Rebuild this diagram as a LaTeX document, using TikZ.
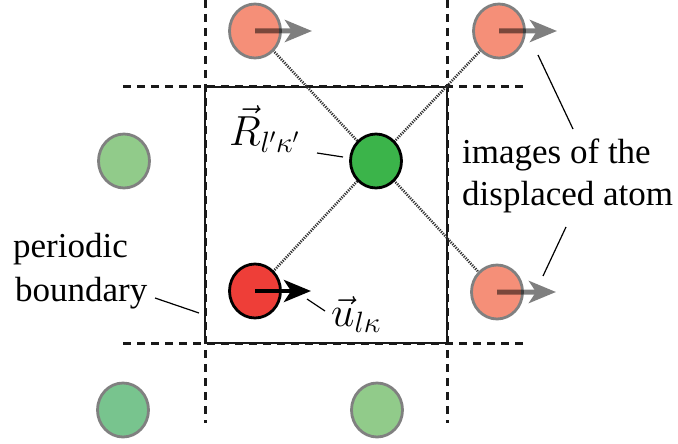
\RequirePackage{fix-cm}
\documentclass[tikz,border=0pt]{standalone}
\usepackage{fontspec}
\setmainfont{Liberation Serif}
\usetikzlibrary{shapes.geometric,arrows.meta,backgrounds}
\definecolor{salmon}{HTML}{F58F78}
\definecolor{lgreen}{HTML}{91CB8A}
\definecolor{mgreen}{HTML}{78C48E}
\definecolor{dgreen}{HTML}{3BB44A}
\definecolor{atomred}{HTML}{EE3E38}
\definecolor{ringgray}{HTML}{808080}
\tikzset{
  atom/.style={ellipse, minimum width=51pt, minimum height=54pt, inner sep=0pt, line width=2.8pt},
  image/.style={atom, draw=ringgray, fill=salmon},
  ghost/.style={atom, draw=ringgray, fill=#1},
  boundary/.style={line width=2.8pt, black!90},
  dashline/.style={line width=3pt, black!90, dash pattern=on 8pt off 6pt},
  dotline/.style={line width=2.6pt, black!80, dash pattern=on 1.2pt off 1.2pt},
  pointer/.style={line width=1.2pt, black},
  disp/.style={line width=5pt, -{Stealth[length=27pt,width=22pt,inset=7pt]}},
  lbl/.style={inner sep=0pt, font=\fontsize{35}{44}\selectfont},
  mlbl/.style={inner sep=0pt, font=\fontsize{42}{50}\selectfont},
}
\begin{document}
\begin{tikzpicture}[x=1pt,y=-1pt]
\useasboundingbox (0,0) rectangle (678,444);
% periodic boundary corners and line ends
\coordinate (c1) at (205,87);
\coordinate (c2) at (447,87);
\coordinate (c3) at (447,343);
\coordinate (c4) at (205,343);
\coordinate (vt1) at (205,0);
\coordinate (vb1) at (205,423);
\coordinate (vt2) at (447,0);
\coordinate (vb2) at (447,423);
\coordinate (hl1) at (123,87);
\coordinate (hr1) at (528,87);
\coordinate (hl2) at (123,343);
\coordinate (hr2) at (528,343);
% atoms
\node[image] (tl) at (255,31) {};
\node[image] (tr) at (499,31) {};
\node[image] (rb) at (497,292) {};
\node[ghost=lgreen] (lg) at (124,161) {};
\node[ghost=mgreen] (bl) at (123,410) {};
\node[ghost=lgreen] (bm) at (377,410) {};
\node[atom, draw=black, fill=dgreen] (cg) at (376,161) {};
\node[atom, draw=black, fill=atomred] (ra) at (255,291) {};
% boundary and dotted connections behind the atoms
\begin{scope}[on background layer]
\draw[dashline] (vt1) -- (vb1);
\draw[dashline] (vt2) -- (vb2);
\draw[dashline] (hl1) -- (hr1);
\draw[dashline] (hl2) -- (hr2);
\draw[boundary] (c1) -- (c2) -- (c3) -- (c4) -- cycle;
\draw[dotline] (tl.center) -- (cg.center) -- (rb.center);
\draw[dotline] (ra.center) -- (cg.center) -- (tr.center);
\end{scope}
% displacement arrows
\coordinate (tlh) at (312,31);
\coordinate (trh) at (557,31);
\coordinate (rbh) at (556,292);
\coordinate (rah) at (311,291);
\begin{scope}[transparency group, opacity=0.5]
\draw[disp] (tl.center) -- (tlh);
\end{scope}
\begin{scope}[transparency group, opacity=0.5]
\draw[disp] (tr.center) -- (trh);
\end{scope}
\begin{scope}[transparency group, opacity=0.5]
\draw[disp] (rb.center) -- (rbh);
\end{scope}
\draw[disp, line width=4.5pt] (ra.center) -- (rah);
% labels
\node[lbl, anchor=base west] (pb1) at (13,257) {periodic};
\node[lbl, anchor=base west] (pb2) at (15,301) {boundary};
\node[lbl, anchor=base west] (im1) at (462,163) {images of the};
\node[lbl, anchor=base west] (im2) at (462,205) {displaced atom};
\node[mlbl, anchor=base west] (rl) at (229,146) {$\vec{R}_{l'\kappa'}$};
\node[mlbl, anchor=base west] (ul) at (331,326) {$\vec{u}_{l\kappa}$};
% pointer lines
\coordinate (pbs) at (155,298);
\coordinate (pbe) at (199,313);
\coordinate (rls) at (317,153);
\coordinate (rle) at (343,157);
\coordinate (uls) at (307,299);
\coordinate (ule) at (325,311);
\coordinate (ims1) at (573,129);
\coordinate (ime1) at (538,55);
\coordinate (ims2) at (566,227);
\coordinate (ime2) at (543,276);
\draw[pointer] (pbs) -- (pbe);
\draw[pointer] (rls) -- (rle);
\draw[pointer] (uls) -- (ule);
\draw[pointer] (ims1) -- (ime1);
\draw[pointer] (ims2) -- (ime2);
\end{tikzpicture}
\end{document}
